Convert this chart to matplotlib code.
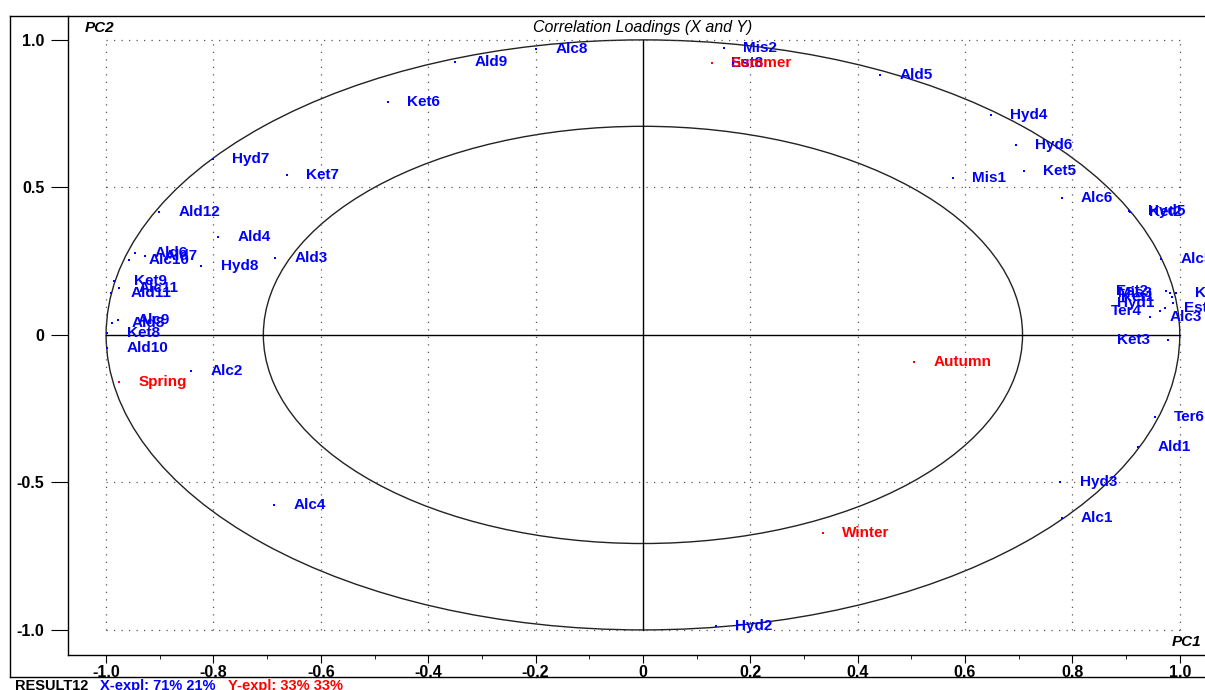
import numpy as np
import matplotlib
matplotlib.use('Agg')
import matplotlib.pyplot as plt
from matplotlib.patches import Ellipse
from matplotlib.lines import Line2D

plt.rcParams['font.family'] = ['Liberation Sans', 'DejaVu Sans']

# X loadings (volatile compounds)
x_names = ['Alc8', 'Mis2', 'Est8', 'Ald9', 'Ald5', 'Ket6', 'Hyd4', 'Hyd6', 'Hyd7', 'Ket7',
           'Mis1', 'Ket5', 'Alc6', 'Hyd5', 'Ket2', 'Alc5', 'Est2', 'Mis3', 'Ket1', 'Hyd1',
           'Ter4', 'Ket4', 'Est5', 'Alc3', 'Ket3', 'Ter6', 'Ald1', 'Hyd3', 'Alc1', 'Hyd2',
           'Alc4', 'Alc2', 'Ald10', 'Ket8', 'Alc9', 'Ald8', 'Ket9', 'Alc11', 'Ald11', 'Ald6',
           'Ald7', 'Alc10', 'Hyd8', 'Ald3', 'Ald4', 'Ald12']
x_pc1 = [-0.199, 0.151, 0.128, -0.350, 0.441, -0.475, 0.648, 0.695, -0.801, -0.663,
         0.577, 0.709, 0.780, 0.905, 0.907, 0.965, 0.974, 0.981, 0.985, 0.987,
         0.963, 0.993, 0.972, 0.945, 0.978, 0.953, 0.922, 0.777, 0.780, 0.136,
         -0.687, -0.842, -0.998, -0.998, -0.978, -0.989, -0.985, -0.976, -0.990, -0.946,
         -0.927, -0.957, -0.823, -0.685, -0.791, -0.901]
x_pc2 = [0.969, 0.973, 0.922, 0.925, 0.881, 0.790, 0.746, 0.644, 0.597, 0.542,
         0.532, 0.556, 0.464, 0.420, 0.418, 0.258, 0.149, 0.142, 0.129, 0.108,
         0.081, 0.142, 0.092, 0.060, -0.017, -0.278, -0.380, -0.498, -0.620, -0.986,
         -0.576, -0.122, -0.044, 0.007, 0.051, 0.041, 0.183, 0.160, 0.142, 0.278,
         0.268, 0.254, 0.234, 0.261, 0.332, 0.417]

# Y loadings (seasons)
y_names = ['Spring', 'Summer', 'Autumn', 'Winter']
y_pc1 = [-0.976, 0.128, 0.505, 0.335]
y_pc2 = [-0.159, 0.922, -0.092, -0.671]

# labels placed on the left of their point
left_labels = ['Est2', 'Mis3', 'Ket1', 'Hyd1', 'Ter4', 'Ket3']

x_ticks = [-1.0, -0.8, -0.6, -0.4, -0.2, 0.0, 0.2, 0.4, 0.6, 0.8, 1.0]
y_ticks = [-1.0, -0.5, 0.0, 0.5, 1.0]


def fmt_tick(v):

    if(abs(v) < 1e-9): return '0'
    return '%.1f' %(v)


def draw_loadings(ax, names, pc1, pc2, color):

    ax.plot(pc1, pc2, linestyle='none', marker='s', markersize=1.7,
            color=color, markeredgewidth=0)
    for name, x, y in zip(names, pc1, pc2):
        if(name in left_labels):
            ax.annotate(name, (x, y), xytext=(-13, 0), textcoords='offset points',
                        ha='right', va='center', color=color, fontsize=11, fontweight='bold')
        else:
            ax.annotate(name, (x, y), xytext=(14, 0), textcoords='offset points',
                        ha='left', va='center', color=color, fontsize=11, fontweight='bold')


def main(savepath='out.png'):

    W, H = 1205, 690
    fig = plt.figure(figsize=(W / 100, H / 100), dpi=100)
    ax = fig.add_axes([68 / W, 1 - 655 / H, 1137 / W, 639 / H])

    ax.set_xlim(-1.071, 1.047)
    ax.set_ylim(-1.085, 1.081)

    # dotted grid inside the unit box
    for v in x_ticks:
        if(abs(v) < 1e-9): continue
        ax.plot([v, v], [-1, 1], color='#555555', linestyle=(0, (1, 5)), linewidth=0.9)
    for v in y_ticks:
        if(abs(v) < 1e-9): continue
        ax.plot([-1, 1], [v, v], color='#555555', linestyle=(0, (1, 5)), linewidth=0.9)

    ax.plot([0, 0], [-1, 1], color='black', linewidth=1.0)
    ax.plot([-1, 1], [0, 0], color='black', linewidth=1.0)

    # 100% and 50% explained variance ellipses
    for r in [1.0, np.sqrt(0.5)]:
        ax.add_patch(Ellipse((0, 0), 2 * r, 2 * r, fill=False, edgecolor='#222222', linewidth=1.0))

    draw_loadings(ax, x_names, x_pc1, x_pc2, '#0000ff')
    draw_loadings(ax, y_names, y_pc1, y_pc2, '#ff0000')

    ax.set_xticks(x_ticks)
    ax.set_xticklabels([fmt_tick(v) for v in x_ticks], fontsize=11.5, fontweight='bold')
    ax.set_xticks(np.arange(-1.0, 1.01, 0.1), minor=True)
    ax.set_yticks(y_ticks)
    ax.set_yticklabels([fmt_tick(v) for v in y_ticks], fontsize=11.5, fontweight='bold')
    ax.tick_params(axis='x', which='major', direction='out', length=6, pad=1)
    ax.tick_params(axis='x', which='minor', direction='out', length=3)
    ax.tick_params(axis='y', which='major', direction='out', length=12, pad=5)
    ax.tick_params(axis='y', which='minor', left=False)

    for side in ['top', 'right']:
        ax.spines[side].set_visible(False)
    ax.spines['left'].set_linewidth(1.0)
    ax.spines['bottom'].set_linewidth(1.0)

    ax.text(0, 1.042, 'Correlation Loadings (X and Y)', ha='center', va='center',
            fontsize=11.5, fontstyle='italic', color='black')
    ax.text(-1.04, 1.042, 'PC2', ha='left', va='center', fontsize=11,
            fontstyle='italic', fontweight='bold')
    ax.text(1.04, -1.04, 'PC1', ha='right', va='center', fontsize=11,
            fontstyle='italic', fontweight='bold')

    # outer frame of the plot window
    def fline(x0, y0, x1, y1):
        fig.add_artist(Line2D([x0 / W, x1 / W], [1 - y0 / H, 1 - y1 / H],
                              color='black', linewidth=1.0))
    fline(10, 16, W, 16)
    fline(10, 16, 10, 677)
    fline(10, 677, W, 677)

    fig.text(15 / W, 1 - 679 / H, 'RESULT12', ha='left', va='top',
             fontsize=10.5, fontweight='bold')
    fig.text(100 / W, 1 - 679 / H, 'X-expl: 71% 21%', ha='left', va='top',
             fontsize=10.5, fontweight='bold', color='#0000ff')
    fig.text(228 / W, 1 - 679 / H, 'Y-expl: 33% 33%', ha='left', va='top',
             fontsize=10.5, fontweight='bold', color='#ff0000')

    fig.savefig(savepath, dpi=100)
    plt.close(fig)


if __name__ == '__main__':

    main(savepath='out.png')
